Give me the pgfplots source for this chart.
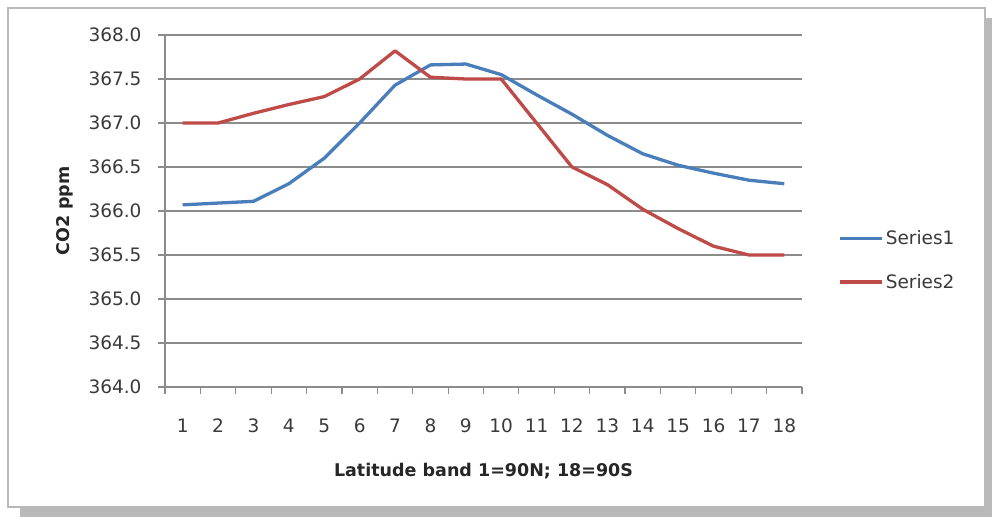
\documentclass[border=0pt]{standalone}
\usepackage{pgfplots}
\pgfplotsset{compat=1.18}
\usepackage{fontspec}
\setmainfont{DejaVu Sans}
\definecolor{sblue}{HTML}{4A7EBB}
\definecolor{sred}{HTML}{BE4B48}
\definecolor{gridc}{HTML}{8C8C8C}
\definecolor{txt}{HTML}{3A3A3A}
\begin{document}
\begin{tikzpicture}
\useasboundingbox (0bp,0bp) rectangle (992bp,517bp);
\fill[gray!55] (20bp,0bp) rectangle (992bp,499bp);
\filldraw[fill=white, draw=gray!55, line width=1.5bp] (8bp,10bp) rectangle (985bp,509bp);
\begin{axis}[
  at={(165bp,130bp)}, anchor=south west,
  scale only axis, width=637bp, height=352bp,
  xmin=0.5, xmax=18.5, ymin=364, ymax=368,
  axis x line*=bottom, axis y line*=left,
  axis line style={gridc, line width=1.2bp},
  xtick={1,...,18},
  xticklabels={1,2,3,4,5,6,7,8,9,10,11,12,13,14,15,16,17,18},
  major x tick style={draw=none},
  minor xtick={0.5,1.5,...,18.5},
  minor x tick style={gridc, line width=1.2bp},
  minor tick length=7bp,
  ytick={364,364.5,...,368},
  yticklabels={364.0,364.5,365.0,365.5,366.0,366.5,367.0,367.5,368.0},
  ymajorgrids, grid style={gridc, line width=1.3bp},
  y tick style={gridc, line width=1.2bp},
  tick align=outside, major tick length=7bp,
  tick label style={font=\fontsize{18.5bp}{21bp}\selectfont, text=txt},
  xticklabel style={yshift=-21bp},
  yticklabel style={xshift=-13bp},
  xlabel={Latitude band 1=90N; 18=90S},
  ylabel={CO2 ppm},
  label style={font=\bfseries\fontsize{17.5bp}{20bp}\selectfont, text=black!85},
  xlabel style={at={(axis description cs:0.5,0)}, anchor=center, yshift=-84bp},
  ylabel style={at={(axis description cs:-0.157,0.5)}, anchor=center},
  legend style={draw=none, fill=none, at={(1.057,0.36)}, anchor=west,
    font=\fontsize{18.5bp}{21bp}\selectfont, text=txt, row sep=24bp,
    inner sep=0pt, /tikz/every even column/.append style={column sep=0pt}},
  legend cell align=left,
  legend image code/.code={\draw[#1] (0bp,0bp) -- (42bp,0bp);},
  every axis plot/.append style={line width=3.3bp, line join=round},
]
\addplot[sblue] coordinates {
(1,366.07) (2,366.09) (3,366.11) (4,366.31) (5,366.6) (6,367.0) (7,367.43) (8,367.66) (9,367.67)
(10,367.55) (11,367.32) (12,367.1) (13,366.86) (14,366.65) (15,366.52) (16,366.43) (17,366.35) (18,366.31)};
\addlegendentry{Series1}
\addplot[sred] coordinates {
(1,367.0) (2,367.0) (3,367.11) (4,367.21) (5,367.3) (6,367.5) (7,367.82) (8,367.52) (9,367.5)
(10,367.5) (11,367.0) (12,366.5) (13,366.3) (14,366.02) (15,365.8) (16,365.6) (17,365.5) (18,365.5)};
\addlegendentry{Series2}
\end{axis}
\end{tikzpicture}
\end{document}
